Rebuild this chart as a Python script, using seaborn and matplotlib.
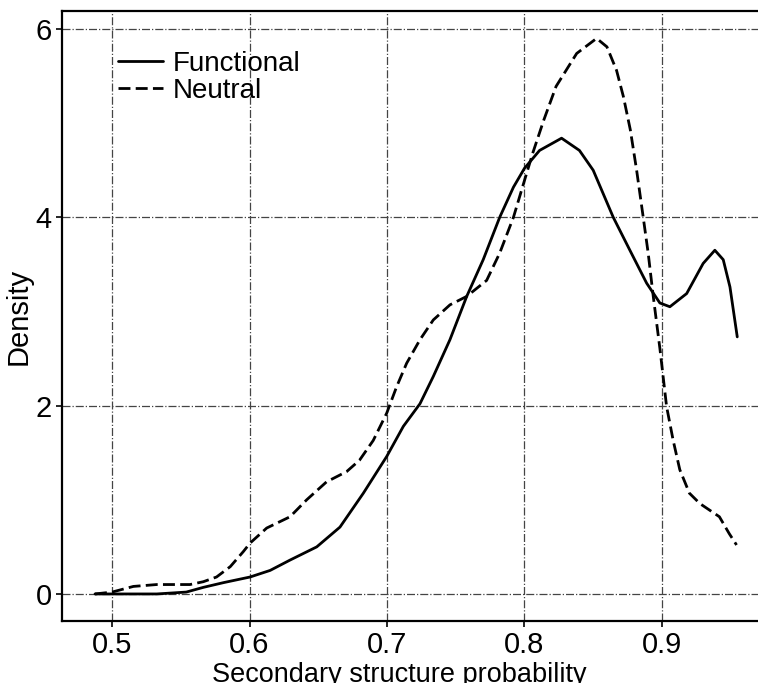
import matplotlib
matplotlib.use("Agg")
import matplotlib.pyplot as plt
import seaborn as sns
import pandas as pd

# Functional (solid) curve points
func_x = [0.4876, 0.5, 0.5325, 0.554, 0.5664, 0.581, 0.6004, 0.615, 0.6295, 0.6489,
          0.6658, 0.6828, 0.6998, 0.7119, 0.724, 0.7337, 0.7458, 0.758, 0.770, 0.782,
          0.792, 0.800, 0.811, 0.827, 0.840, 0.850, 0.8646, 0.8767, 0.8889, 0.8985,
          0.9058, 0.918, 0.930, 0.9385, 0.9446, 0.9495, 0.9548]
func_y = [0.0, 0.0, 0.0, 0.02, 0.07, 0.12, 0.18, 0.25, 0.36, 0.50,
          0.71, 1.07, 1.46, 1.78, 2.02, 2.31, 2.70, 3.16, 3.55, 4.0,
          4.32, 4.52, 4.71, 4.84, 4.71, 4.5, 4.0, 3.65, 3.3, 3.09,
          3.05, 3.19, 3.51, 3.65, 3.55, 3.26, 2.73]

# Neutral (dashed) curve points
neut_x = [0.4876, 0.5, 0.5155, 0.5325, 0.5567, 0.5664, 0.576, 0.586, 0.5955, 0.6004,
          0.6125, 0.6295, 0.6416, 0.656, 0.6707, 0.680, 0.690, 0.6998, 0.707, 0.7143,
          0.724, 0.7337, 0.7458, 0.758, 0.7725, 0.782, 0.792, 0.800, 0.806, 0.814,
          0.823, 0.838, 0.8525, 0.860, 0.867, 0.872, 0.877, 0.8816, 0.8864, 0.890,
          0.8937, 0.8985, 0.9034, 0.9082, 0.913, 0.920, 0.9276, 0.9418, 0.949, 0.9543]
neut_y = [0.0, 0.02, 0.08, 0.10, 0.10, 0.13, 0.18, 0.29, 0.45, 0.54,
          0.70, 0.82, 1.0, 1.19, 1.30, 1.42, 1.63, 1.92, 2.2, 2.45,
          2.70, 2.91, 3.07, 3.16, 3.33, 3.62, 4.0, 4.39, 4.68, 5.03,
          5.39, 5.74, 5.9, 5.81, 5.56, 5.28, 4.93, 4.5, 4.0, 3.62,
          3.16, 2.61, 1.99, 1.63, 1.32, 1.07, 0.96, 0.82, 0.64, 0.52]

series_names = ["Functional", "Neutral"]
x_ticks = [0.5, 0.6, 0.7, 0.8, 0.9]
y_ticks = [0, 2, 4, 6]

df = pd.concat([
    pd.DataFrame({"x": func_x, "y": func_y, "group": series_names[0]}),
    pd.DataFrame({"x": neut_x, "y": neut_y, "group": series_names[1]}),
], ignore_index=True)

sns.set_theme(style="white")
plt.rcParams["font.family"] = ["Liberation Sans", "DejaVu Sans"]
plt.rcParams["text.color"] = "black"
plt.rcParams["axes.labelcolor"] = "black"

fig = plt.figure(figsize=(7.58, 6.83), dpi=100)
ax = fig.add_axes([0.0818, 0.0908, 0.93, 0.893])

sns.lineplot(data=df, x="x", y="y", style="group", style_order=series_names,
             dashes={"Functional": "", "Neutral": (4.3, 1.9)},
             color="black", linewidth=2.0, sort=False, ax=ax, legend=True)

ax.set_xlim(0.4636, 0.9764)
ax.set_ylim(-0.287, 6.19)
ax.set_xticks(x_ticks)
ax.set_xticklabels([f"{v:.1f}" for v in x_ticks])
ax.set_yticks(y_ticks)
ax.set_yticklabels([str(v) for v in y_ticks])

ax.grid(True, color="#444444", linestyle="-.", linewidth=0.9)
for side in ["left", "bottom", "top"]:
    ax.spines[side].set_visible(True)
    ax.spines[side].set_color("black")
    ax.spines[side].set_linewidth(1.6)
ax.spines["right"].set_visible(False)

ax.tick_params(axis="both", which="major", labelsize=21, colors="black",
               labelcolor="black", direction="out", length=4, width=1.2,
               left=True, bottom=True)
ax.set_xlabel("Secondary structure probability", fontsize=19.5, color="black")
ax.xaxis.set_label_coords(0.479, -0.067)
ax.xaxis.label.set_verticalalignment("top")
ax.set_ylabel("Density", fontsize=21, labelpad=2, color="black")

leg = ax.legend(loc="upper left", bbox_to_anchor=(0.052, 0.967), frameon=False,
                fontsize=20, handlelength=1.6, handletextpad=0.35, labelspacing=0.05,
                borderpad=0.2)
for line in leg.get_lines():
    line.set_linewidth(2.0)
for t in leg.get_texts():
    t.set_color("black")

fig.savefig("out.png", dpi=100)
